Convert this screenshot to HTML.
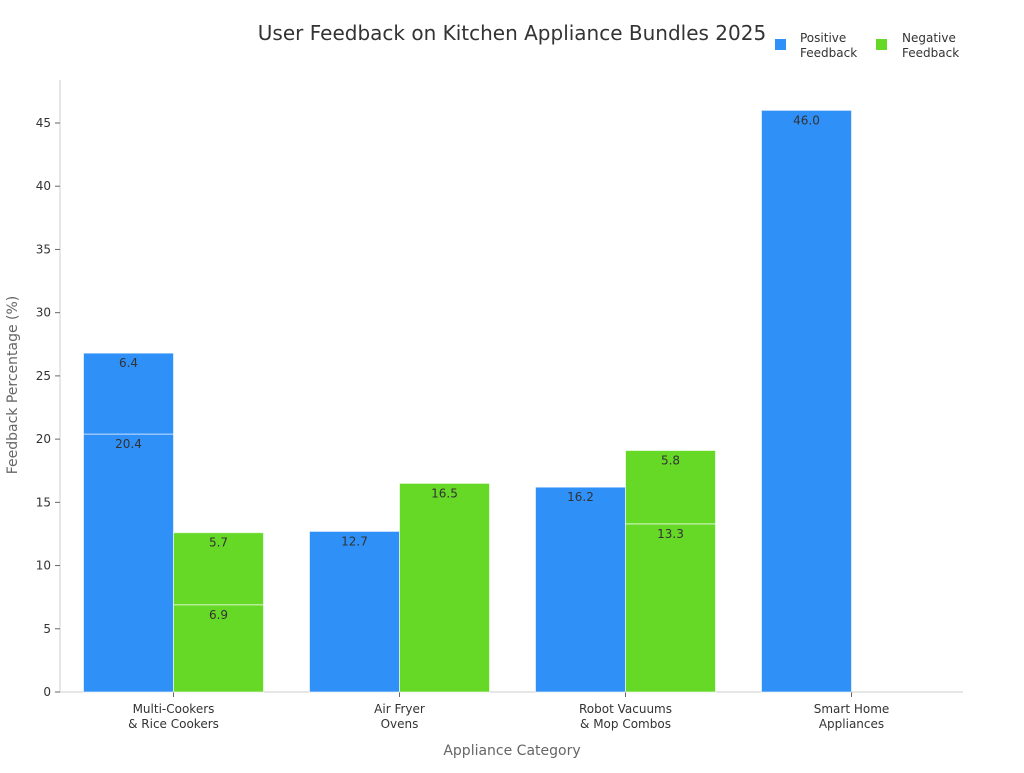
<!DOCTYPE html>
<html><head><meta charset="utf-8"><style>
body{margin:0;background:#fff;}
svg{font-family:"DejaVu Sans","Liberation Sans",sans-serif;}
</style></head><body>
<svg id="c" width="1024" height="768">
<text x="512" y="40" text-anchor="middle" font-size="20" fill="#333">User Feedback on Kitchen Appliance Bundles 2025</text>
<g>
<rect x="775" y="39" width="11" height="11" fill="#2f90f8"/>
<text x="800" y="42" font-size="12" fill="#333"><tspan x="800">Positive</tspan><tspan x="800" dy="15">Feedback</tspan></text>
<rect x="876" y="39" width="11" height="11" fill="#66d927"/>
<text x="902" y="42" font-size="12" fill="#333"><tspan x="902">Negative</tspan><tspan x="902" dy="15">Feedback</tspan></text>
</g>
<text transform="translate(17,385) rotate(-90)" text-anchor="middle" font-size="14" fill="#666">Feedback Percentage (%)</text>
<text x="512" y="755" text-anchor="middle" font-size="14" fill="#666">Appliance Category</text>
<g id="plot"></g>
</svg>
<script>
const categories=[["Multi-Cookers","& Rice Cookers"],["Air Fryer","Ovens"],["Robot Vacuums","& Mop Combos"],["Smart Home","Appliances"]];
const positiveSegments=[[20.4,6.4],[12.7],[16.2],[46.0]];
const negativeSegments=[[6.9,5.7],[16.5],[13.3,5.8],[]];
const yTicks=[0,5,10,15,20,25,30,35,40,45];
const NS="http://www.w3.org/2000/svg";
const g=document.getElementById('plot');
const y0=692,pxPer=569/45;
const y=v=>y0-v*pxPer;
const xc=i=>173.5+i*226;
function mk(t,a,p){const e=document.createElementNS(NS,t);for(const k in a)e.setAttribute(k,a[k]);(p||g).appendChild(e);return e;}
mk('line',{x1:60,y1:80,x2:60,y2:692,stroke:'#ccc'});
mk('line',{x1:60,y1:692,x2:963,y2:692,stroke:'#ccc'});
yTicks.forEach(t=>{
 const l=mk('line',{x1:55,x2:60,y1:y(t),y2:y(t),stroke:'#666'});
 
 
 const tx=mk('text',{x:51,y:y(t)+4,'text-anchor':'end','font-size':12,fill:'#333'});tx.textContent=t;
 
 
});
categories.forEach((c,i)=>{
 mk('line',{x1:xc(i),x2:xc(i),y1:692,y2:697,stroke:'#666'});
 const tx=mk('text',{x:xc(i),y:713,'text-anchor':'middle','font-size':12,fill:'#333'});
 
 
 c.forEach((s,k)=>{const ts=mk('tspan',{x:xc(i),dy:k?15:0},tx);ts.textContent=s;});
});
function stack(arr,xl,color,name){
 arr.forEach((segs,i)=>{let base=0;
  segs.forEach(v=>{
   const top=base+v;
   const r=mk('rect',{x:xc(i)+xl,y:y(top),width:90,height:y(base)-y(top),fill:color,stroke:'#fff','stroke-opacity':0.6,'stroke-width':1});
   
   
   const t=mk('text',{x:xc(i)+xl+45,y:y(top)+14,'text-anchor':'middle','font-size':12,fill:'#333'});
   t.textContent=v.toFixed(1);
   
   
   base=top;});
 });
}
stack(positiveSegments,-90,'#2f90f8','positive');
stack(negativeSegments,0,'#66d927','negative');
</script>
</body></html>
